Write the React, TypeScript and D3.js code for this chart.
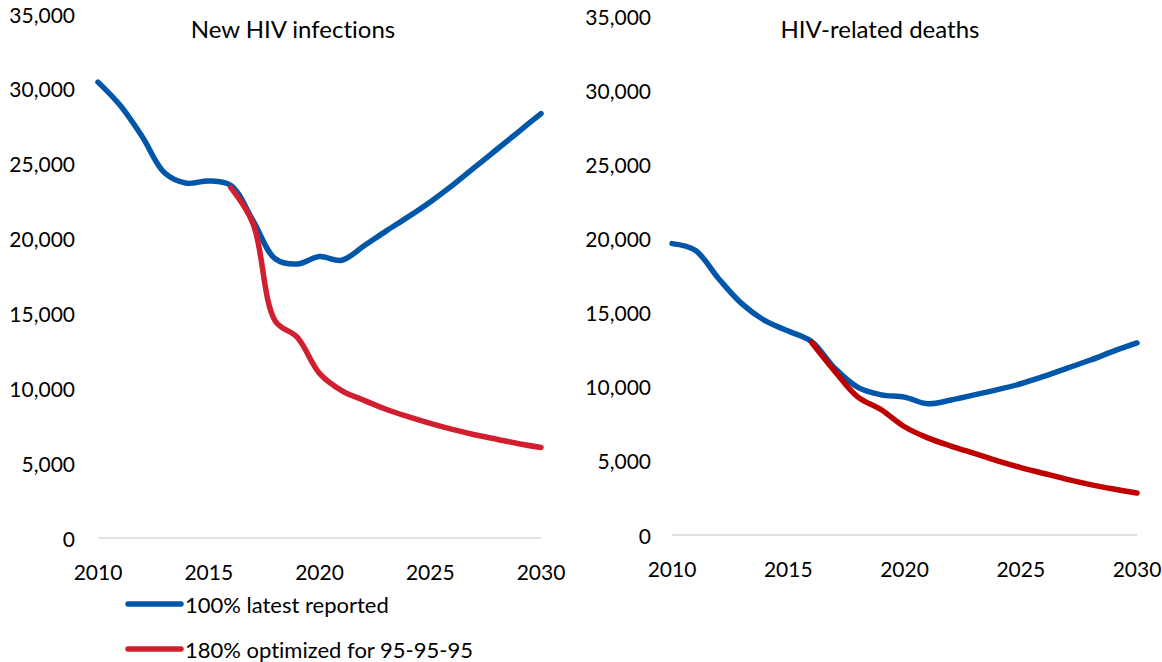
import React from "react";
import * as d3 from "d3";

const years = d3.range(2010, 2031);
const yTicks = [0, 5000, 10000, 15000, 20000, 25000, 30000, 35000];
const xTicks = [2010, 2015, 2020, 2025, 2030];

const infectionsLatest = [30450, 28900, 26800, 24400, 23700, 23850, 23550, 21200, 18650, 18300, 18800, 18550, 19500, 20500, 21450, 22450, 23550, 24750, 25950, 27150, 28350];
const infectionsOptYears = d3.range(2016, 2031);
const infectionsOptimized = [23400, 21000, 14500, 13400, 11000, 9850, 9200, 8600, 8100, 7650, 7250, 6900, 6600, 6300, 6050];

const deathsLatest = [19650, 19200, 17300, 15600, 14450, 13750, 13050, 11250, 9950, 9450, 9300, 8850, 9100, 9450, 9800, 10200, 10700, 11250, 11800, 12400, 12950];
const deathsOptYears = d3.range(2016, 2031);
const deathsOptimized = [13000, 11050, 9300, 8450, 7300, 6550, 6000, 5500, 5000, 4550, 4150, 3750, 3400, 3100, 2830];

const legendLabels = ["100% latest reported", "180% optimized for 95-95-95"];
const titles = ["New HIV infections", "HIV-related deaths"];

const BLUE = "#0057AA";
const RED_L = "#D21F2F";
const RED_R = "#C00000";
const FONT = "Lato, 'Open Sans', sans-serif";
const fmt = d3.format(",");

type PanelProps = {
  title: string;
  titleX: number;
  xRange: [number, number];
  yRange: [number, number];
  labelRight: number;
  latest: number[];
  optYears: number[];
  opt: number[];
  red: string;
};

function Panel(p: PanelProps) {
  const x = d3.scaleLinear().domain([2010, 2030]).range(p.xRange);
  const y = d3.scaleLinear().domain([0, 35000]).range(p.yRange);
  const line = d3
    .line<[number, number]>()
    .x((d) => x(d[0]))
    .y((d) => y(d[1]))
    .curve(d3.curveCatmullRom.alpha(0.5));
  const blueData: [number, number][] = years.map((yr, i) => [yr, p.latest[i]]);
  const redData: [number, number][] = p.optYears.map((yr, i) => [yr, p.opt[i]]);
  return (
    <g>
      <text x={p.titleX} y={28} textAnchor="middle" dominantBaseline="central" fontSize={24} fill="#000">
        {p.title}
      </text>
      {yTicks.map((t) => (
        <text key={t} x={p.labelRight} y={y(t)} textAnchor="end" dominantBaseline="central" fontSize={21} fill="#000">
          {fmt(t)}
        </text>
      ))}
      <line x1={x(2010)} x2={x(2030)} y1={y(0)} y2={y(0)} stroke="#D9D9D9" strokeWidth={1.5} />
      {xTicks.map((t) => (
        <text key={t} x={x(t)} y={y(0) + 33} textAnchor="middle" dominantBaseline="central" fontSize={21} fill="#000">
          {t}
        </text>
      ))}
      <path d={line(blueData) || ""} fill="none" stroke={BLUE} strokeWidth={5.5} strokeLinecap="round" strokeLinejoin="round" />
      <path d={line(redData) || ""} fill="none" stroke={p.red} strokeWidth={5.5} strokeLinecap="round" strokeLinejoin="round" />
    </g>
  );
}

export default function App() {
  return (
    <div style={{ position: "fixed", left: 0, top: 0, width: 1162, height: 662, background: "#fff" }}>
      <svg width={1162} height={662} style={{ display: "block", fontFamily: FONT, fontVariantLigatures: "none" }}>
        <Panel
          title={titles[0]}
          titleX={293}
          xRange={[98, 541]}
          yRange={[538, 14]}
          labelRight={75}
          latest={infectionsLatest}
          optYears={infectionsOptYears}
          opt={infectionsOptimized}
          red={RED_L}
        />
        <Panel
          title={titles[1]}
          titleX={880}
          xRange={[672, 1137]}
          yRange={[535, 16]}
          labelRight={651}
          latest={deathsLatest}
          optYears={deathsOptYears}
          opt={deathsOptimized}
          red={RED_R}
        />
        {legendLabels.map((l, i) => (
          <g key={l}>
            <line x1={128} x2={181} y1={604 + i * 45} y2={604 + i * 45} stroke={i === 0 ? BLUE : RED_L} strokeWidth={5.5} strokeLinecap="round" />
            <text x={185} y={604 + i * 45} dominantBaseline="central" fontSize={22} fill="#000">
              {l}
            </text>
          </g>
        ))}
      </svg>
    </div>
  );
}
